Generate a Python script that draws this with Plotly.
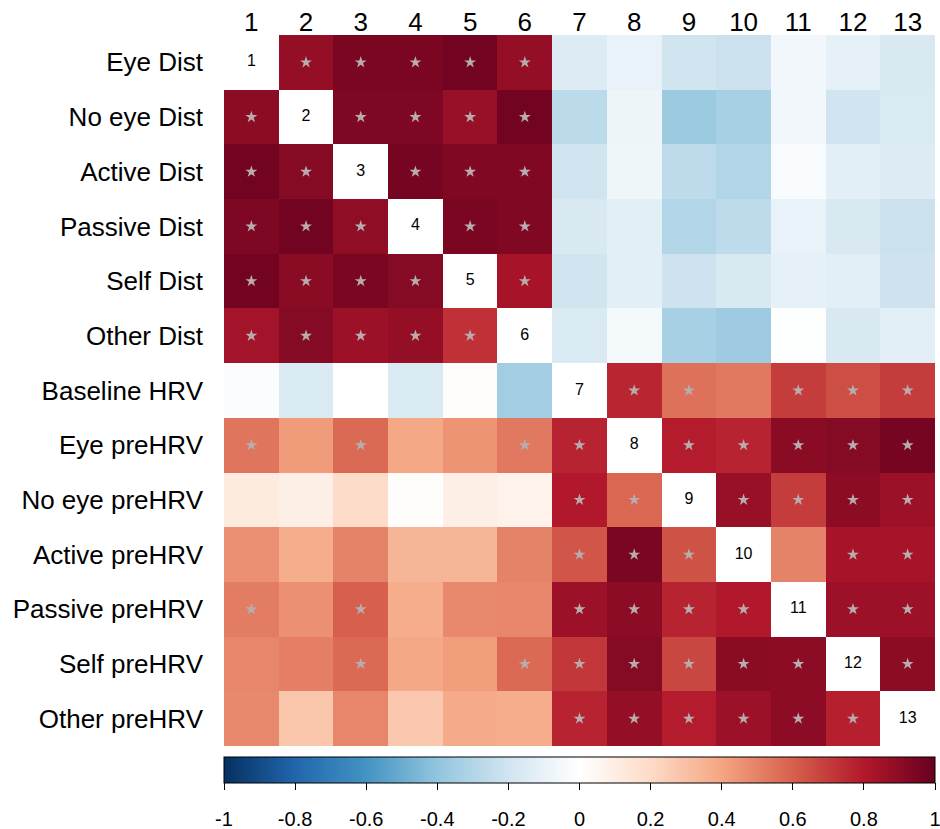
import numpy as np
import plotly.graph_objects as go

labels = ["Eye Dist", "No eye Dist", "Active Dist", "Passive Dist", "Self Dist", "Other Dist",
          "Baseline HRV", "Eye preHRV", "No eye preHRV", "Active preHRV", "Passive preHRV",
          "Self preHRV", "Other preHRV"]
col_numbers = [str(i) for i in range(1, 14)]

# correlation matrix, read row by row (diagonal left empty)
corr = [
    [None, 0.88, 0.95, 0.95, 0.97, 0.88, -0.15, -0.10, -0.20, -0.22, -0.06, -0.11, -0.17],
    [0.90, None, 0.94, 0.94, 0.87, 0.97, -0.27, -0.08, -0.37, -0.33, -0.06, -0.20, -0.16],
    [0.97, 0.92, None, 0.96, 0.93, 0.93, -0.20, -0.07, -0.26, -0.30, -0.03, -0.12, -0.15],
    [0.94, 0.97, 0.89, None, 0.95, 0.93, -0.17, -0.12, -0.30, -0.26, -0.10, -0.17, -0.22],
    [0.97, 0.91, 0.95, 0.92, None, 0.83, -0.20, -0.12, -0.21, -0.17, -0.11, -0.12, -0.21],
    [0.84, 0.92, 0.86, 0.88, 0.73, None, -0.16, -0.05, -0.33, -0.36, -0.01, -0.17, -0.12],
    [-0.02, -0.16, 0.00, -0.16, 0.01, -0.35, None, 0.76, 0.55, 0.53, 0.70, 0.65, 0.70],
    [0.54, 0.43, 0.57, 0.39, 0.45, 0.53, 0.77, None, 0.79, 0.77, 0.91, 0.92, 0.96],
    [0.11, 0.09, 0.19, 0.01, 0.09, 0.07, 0.80, 0.58, None, 0.87, 0.70, 0.90, 0.86],
    [0.46, 0.37, 0.50, 0.34, 0.34, 0.50, 0.63, 0.95, 0.64, None, 0.50, 0.83, 0.83],
    [0.52, 0.46, 0.60, 0.37, 0.48, 0.49, 0.86, 0.90, 0.77, 0.80, None, 0.86, 0.86],
    [0.49, 0.51, 0.57, 0.39, 0.42, 0.57, 0.71, 0.92, 0.67, 0.91, 0.90, None, 0.90],
    [0.48, 0.28, 0.49, 0.27, 0.38, 0.37, 0.77, 0.88, 0.79, 0.86, 0.90, 0.78, None],
]

# 1 = significant (marked with a star)
signif = [
    [0, 1, 1, 1, 1, 1, 0, 0, 0, 0, 0, 0, 0],
    [1, 0, 1, 1, 1, 1, 0, 0, 0, 0, 0, 0, 0],
    [1, 1, 0, 1, 1, 1, 0, 0, 0, 0, 0, 0, 0],
    [1, 1, 1, 0, 1, 1, 0, 0, 0, 0, 0, 0, 0],
    [1, 1, 1, 1, 0, 1, 0, 0, 0, 0, 0, 0, 0],
    [1, 1, 1, 1, 1, 0, 0, 0, 0, 0, 0, 0, 0],
    [0, 0, 0, 0, 0, 0, 0, 1, 1, 0, 1, 1, 1],
    [1, 0, 1, 0, 0, 1, 1, 0, 1, 1, 1, 1, 1],
    [0, 0, 0, 0, 0, 0, 1, 1, 0, 1, 1, 1, 1],
    [0, 0, 0, 0, 0, 0, 1, 1, 1, 0, 0, 1, 1],
    [1, 0, 1, 0, 0, 0, 1, 1, 1, 1, 0, 1, 1],
    [0, 0, 1, 0, 0, 1, 1, 1, 1, 1, 1, 0, 1],
    [0, 0, 0, 0, 0, 0, 1, 1, 1, 1, 1, 1, 0],
]

colorbar_ticks = [-1, -0.8, -0.6, -0.4, -0.2, 0, 0.2, 0.4, 0.6, 0.8, 1]

# corrplot RdBu palette
rdbu = ["#053061", "#2166AC", "#4393C3", "#92C5DE", "#D1E5F0", "#FFFFFF",
        "#FDDBC7", "#F4A582", "#D6604D", "#B2182B", "#67001F"]
escala = [[i / (len(rdbu) - 1), c] for i, c in enumerate(rdbu)]

fuente = "Liberation Sans"
n = len(labels)
idx = list(range(1, n + 1))
z = np.array([[np.nan if v is None else v for v in fila] for fila in corr])

# paper spans from the top margin down to the bottom of the figure
alto, margen_sup = 829, 35
alto_papel = alto - margen_sup
base_plot = (alto - 746) / alto_papel      # bottom of the matrix
cb_top = (alto - 757) / alto_papel         # top of the colour bar
cb_grosor = 26
cb_bottom = cb_top - cb_grosor / alto_papel

fig = go.Figure()
fig.add_trace(go.Heatmap(
    z=z, x=idx, y=idx, colorscale=escala, zmin=-1, zmax=1, hoverongaps=False,
    colorbar=dict(
        orientation="h", x=0.5, xanchor="center", y=cb_top, yanchor="top",
        len=1, lenmode="fraction", thickness=cb_grosor, xpad=0, ypad=0,
        outlinecolor="black", outlinewidth=1,
        tickvals=colorbar_ticks, showticklabels=False,
        ticks="outside", ticklen=7, tickcolor="black",
    ),
))

# stars for significant cells
sx, sy = [], []
for i in range(n):
    for j in range(n):
        if signif[i][j]:
            sx.append(j + 1)
            sy.append(i + 1)
fig.add_trace(go.Scatter(
    x=sx, y=sy, mode="markers", hoverinfo="skip", showlegend=False,
    marker=dict(symbol="star", size=9, color="#B8ACAE"),
))

# diagonal numbers
fig.add_trace(go.Scatter(
    x=idx, y=idx, mode="text", text=col_numbers, hoverinfo="skip", showlegend=False,
    textfont=dict(size=16, color="black", family=fuente),
))

# invisible trace that carries the colour bar labels axis
fig.add_trace(go.Scatter(
    x=colorbar_ticks, y=[None] * len(colorbar_ticks), xaxis="x2", mode="markers",
    hoverinfo="skip", showlegend=False,
))

fig.update_layout(
    width=940, height=alto,
    margin=dict(l=224, r=5, t=margen_sup, b=0, autoexpand=False),
    plot_bgcolor="white", paper_bgcolor="white",
    showlegend=False,
    xaxis=dict(
        side="top", range=[0.5, n + 0.5], tickvals=idx, ticktext=col_numbers,
        showgrid=False, zeroline=False, ticks="", automargin=False, ticklabelstandoff=-2,
        tickfont=dict(size=26, color="black", family=fuente),
    ),
    yaxis=dict(
        domain=[base_plot, 1], range=[n + 0.5, 0.5], tickvals=idx, ticktext=labels,
        showgrid=False, zeroline=False, ticks="", ticklabelstandoff=20, automargin=False,
        tickfont=dict(size=26, color="black", family=fuente),
    ),
    xaxis2=dict(
        overlaying="x", anchor="free", position=cb_bottom, side="bottom",
        range=[-1, 1], tickvals=colorbar_ticks, ticktext=[f"{t:g}" for t in colorbar_ticks],
        showgrid=False, zeroline=False, showline=False, ticks="",
        ticklabelstandoff=22, automargin=False, ticklabeloverflow="allow",
        tickfont=dict(size=20, color="black", family=fuente),
    ),
)

# quitar el margen por defecto del body para que la figura quede en (0, 0)
fig.write_html("out.html", config={"displayModeBar": False},
               post_script="document.body.style.margin = '0';")
